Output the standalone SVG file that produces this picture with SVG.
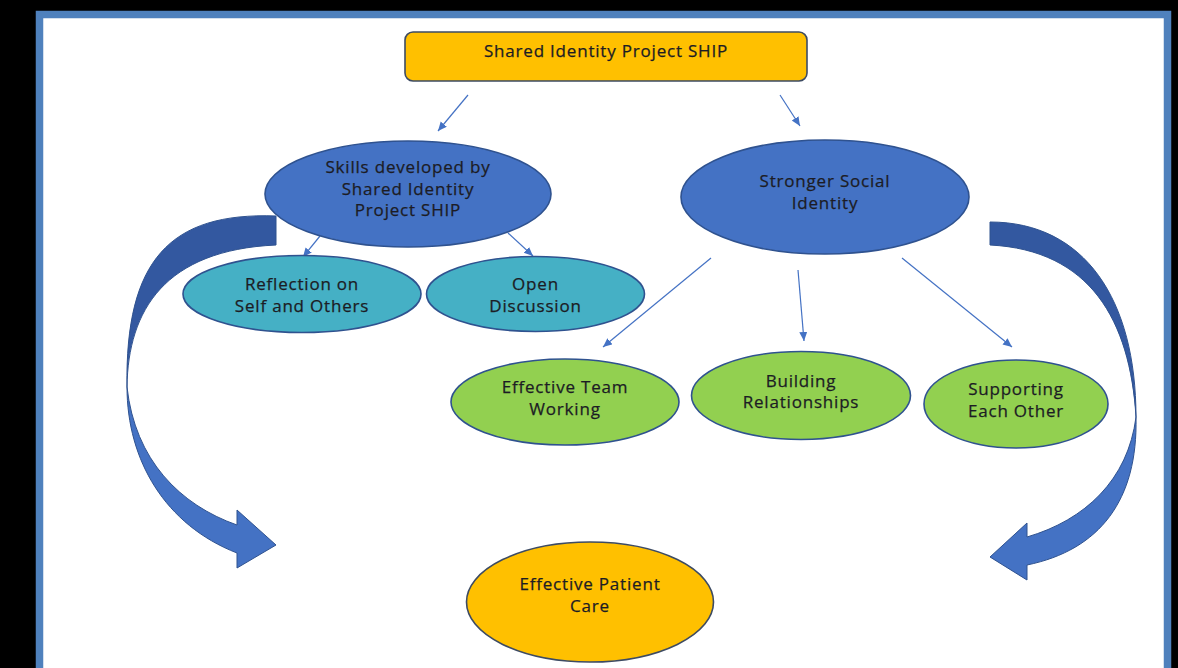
<svg xmlns="http://www.w3.org/2000/svg" width="1178" height="668" viewBox="0 0 1178 668">
<defs>
<style>
.lbl{font-family:"Open Sans","Liberation Sans",sans-serif;font-size:17px;letter-spacing:0.8px;fill:#1c1c24;stroke:#1c1c24;stroke-width:0.25;text-anchor:middle}
.conn{stroke:#4472c4;stroke-width:1.2;fill:none;marker-end:url(#ah)}
.blue{fill:#4472c4;stroke:#2f528f;stroke-width:1.6}
.teal{fill:#45b0c5;stroke:#2f528f;stroke-width:1.6}
.green{fill:#92d050;stroke:#2f528f;stroke-width:1.6}
.gold{fill:#ffc000;stroke:#3d4b63;stroke-width:1.6}
.back{fill:#3358a0;stroke:#2f528f;stroke-width:1}
.front{fill:#4472c4;stroke:#2f528f;stroke-width:1}
</style>
<marker id="ah" markerUnits="userSpaceOnUse" markerWidth="10" markerHeight="9" refX="9" refY="4" orient="auto">
<path d="M0,0 L9,4 L0,8 Z" fill="#4472c4"/>
</marker>
</defs>
<rect x="0" y="0" width="1178" height="668" fill="#000"/>
<rect x="39.5" y="14.5" width="1128" height="700" fill="#fff" stroke="#4f81bd" stroke-width="7.5"/>

<g id="curved-arrow-left">
<path class="back" d="M276,216 C170,212 125,260 127,387 C128,310 165,250 276,245 Z"/>
<path class="front" d="M127,387 C127,460 165,525 237,553 L237,568 L276,545 L237,510 L237,525 C180,505 135,460 127,387 Z"/>
</g>
<g id="curved-arrow-right">
<path class="back" d="M990,222 C1085,222 1136,300 1136,417 C1130,320 1090,250 990,245 Z"/>
<path class="front" d="M1136,417 C1138,500 1100,550 1027,565 L1027,580 L990,557 L1027,523 L1027,537 C1085,520 1128,480 1136,417 Z"/>
</g>

<g id="connectors">
<line class="conn" x1="468" y1="95" x2="438" y2="131"/>
<line class="conn" x1="780" y1="95" x2="800" y2="126"/>
<line class="conn" x1="320" y1="236" x2="303" y2="257"/>
<line class="conn" x1="508" y1="233" x2="533" y2="256"/>
<line class="conn" x1="711" y1="258" x2="603" y2="347"/>
<line class="conn" x1="798" y1="270" x2="804" y2="341"/>
<line class="conn" x1="902" y1="258" x2="1012" y2="347"/>
</g>

<g id="node-ship">
<rect class="gold" x="405" y="32" width="402" height="49" rx="8"/>
<text class="lbl" x="606" y="57">Shared Identity Project SHIP</text>
</g>
<g id="node-skills">
<ellipse class="blue" cx="408" cy="194" rx="143" ry="53"/>
<text class="lbl" x="408" y="173">Skills developed by</text>
<text class="lbl" x="408" y="195">Shared Identity</text>
<text class="lbl" x="408" y="216">Project SHIP</text>
</g>
<g id="node-social">
<ellipse class="blue" cx="825" cy="197" rx="144" ry="57"/>
<text class="lbl" x="825" y="187">Stronger Social</text>
<text class="lbl" x="825" y="209">Identity</text>
</g>
<g id="node-reflection">
<ellipse class="teal" cx="302" cy="294" rx="119" ry="38.5"/>
<text class="lbl" x="302" y="290">Reflection on</text>
<text class="lbl" x="302" y="312">Self and Others</text>
</g>
<g id="node-discussion">
<ellipse class="teal" cx="535.5" cy="294" rx="109" ry="37.5"/>
<text class="lbl" x="535.5" y="290">Open</text>
<text class="lbl" x="535.5" y="312">Discussion</text>
</g>
<g id="node-team">
<ellipse class="green" cx="565" cy="402" rx="114" ry="43"/>
<text class="lbl" x="565" y="393">Effective Team</text>
<text class="lbl" x="565" y="415">Working</text>
</g>
<g id="node-relationships">
<ellipse class="green" cx="801" cy="395.5" rx="109.5" ry="44"/>
<text class="lbl" x="801" y="387">Building</text>
<text class="lbl" x="801" y="408">Relationships</text>
</g>
<g id="node-supporting">
<ellipse class="green" cx="1016" cy="404" rx="92" ry="44"/>
<text class="lbl" x="1016" y="395">Supporting</text>
<text class="lbl" x="1016" y="417">Each Other</text>
</g>
<g id="node-patient-care">
<ellipse class="gold" cx="590" cy="602" rx="123.5" ry="60"/>
<text class="lbl" x="590" y="590">Effective Patient</text>
<text class="lbl" x="590" y="612">Care</text>
</g>
</svg>
